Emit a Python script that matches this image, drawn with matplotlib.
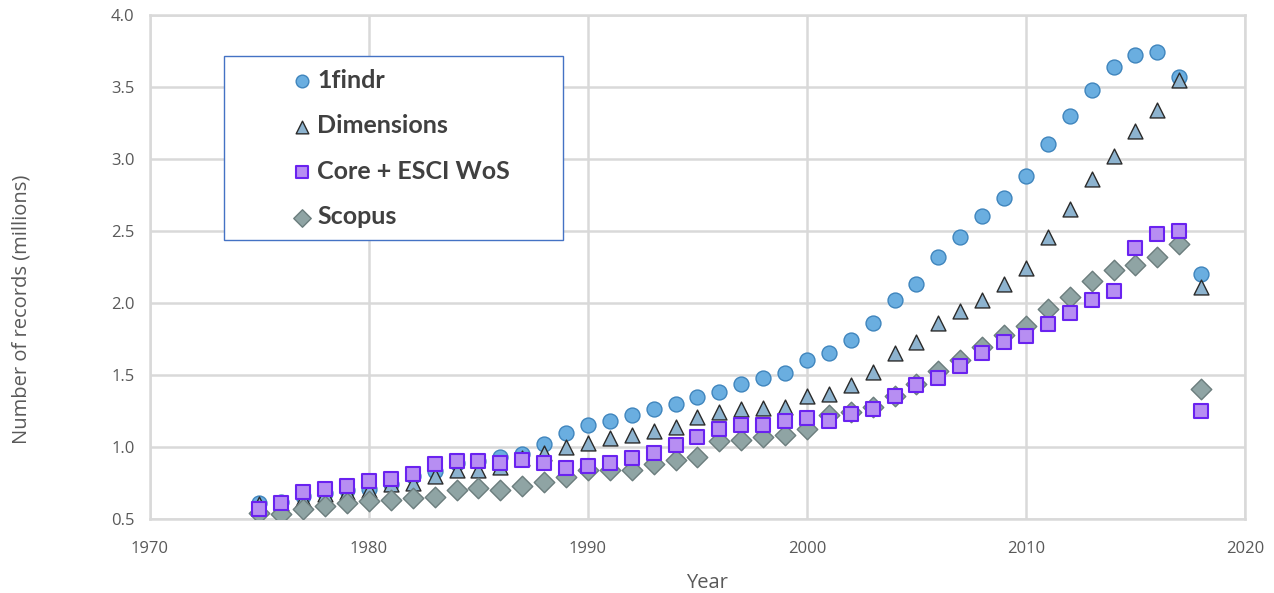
import matplotlib
matplotlib.use("Agg")
import matplotlib.pyplot as plt
from matplotlib.patches import Rectangle

years = list(range(1975, 2019))

findr = [0.61, 0.62, 0.66, 0.68, 0.70, 0.71, 0.74, 0.80, 0.83, 0.89,
         0.90, 0.93, 0.95, 1.02, 1.095, 1.15, 1.18, 1.22, 1.26, 1.30,
         1.345, 1.38, 1.44, 1.48, 1.51, 1.60, 1.65, 1.74, 1.86, 2.02,
         2.13, 2.32, 2.46, 2.60, 2.73, 2.88, 3.10, 3.30, 3.48, 3.64,
         3.72, 3.74, 3.57, 2.20]
dimensions = [0.60, 0.61, 0.64, 0.67, 0.69, 0.70, 0.74, 0.75, 0.80, 0.84,
              0.84, 0.86, 0.92, 0.96, 1.00, 1.03, 1.06, 1.08, 1.11, 1.14,
              1.21, 1.245, 1.26, 1.27, 1.28, 1.35, 1.37, 1.43, 1.52, 1.65,
              1.73, 1.86, 1.94, 2.02, 2.13, 2.24, 2.46, 2.65, 2.86, 3.02,
              3.19, 3.34, 3.55, 2.11]
wos = [0.57, 0.61, 0.69, 0.71, 0.73, 0.76, 0.78, 0.81, 0.88, 0.90,
       0.90, 0.89, 0.91, 0.89, 0.85, 0.87, 0.89, 0.92, 0.96, 1.01,
       1.07, 1.125, 1.155, 1.15, 1.18, 1.20, 1.18, 1.23, 1.26, 1.35,
       1.43, 1.48, 1.56, 1.65, 1.73, 1.77, 1.85, 1.93, 2.02, 2.08,
       2.38, 2.48, 2.50, 1.25]
scopus = [0.54, 0.535, 0.57, 0.59, 0.61, 0.625, 0.63, 0.645, 0.655, 0.70,
          0.715, 0.70, 0.725, 0.755, 0.79, 0.84, 0.84, 0.84, 0.88, 0.91,
          0.93, 1.04, 1.05, 1.07, 1.08, 1.125, 1.22, 1.24, 1.28, 1.35,
          1.44, 1.53, 1.60, 1.69, 1.78, 1.84, 1.96, 2.04, 2.15, 2.23,
          2.26, 2.32, 2.41, 1.40]

x_ticks = [1970, 1980, 1990, 2000, 2010, 2020]
y_ticks = [0.5, 1.0, 1.5, 2.0, 2.5, 3.0, 3.5, 4.0]
y_tick_labels = ["0.5", "1.0", "1.5", "2.0", "2.5", "3.0", "3.5", "4.0"]

fig = plt.figure(figsize=(12.74, 5.93), dpi=100)
ax = fig.add_axes([0.1177, 0.125, 0.8595, 0.85])

ms = 115
ax.scatter(years, findr, s=ms, marker="o", facecolor="#6aaee0", edgecolor="#3f85bd",
           linewidth=1.0, label="1findr", zorder=3)
ax.scatter(years, dimensions, s=ms, marker="^", facecolor="#8db3cf", edgecolor="#2b2b2b",
           linewidth=1.0, label="Dimensions", zorder=4)
ax.scatter(years, scopus, s=ms * 0.95, marker="D", facecolor="#8fa4a4", edgecolor="#6b7d7d",
           linewidth=1.0, label="Scopus", zorder=5)
ax.scatter(years, wos, s=ms * 0.8, marker="s", facecolor="#b78ef2", edgecolor="#6a22f0",
           linewidth=1.5, label="Core + ESCI WoS", zorder=6)

ax.set_xlim(1970, 2020)
ax.set_ylim(0.5, 4.0)
ax.set_xticks(x_ticks)
ax.set_yticks(y_ticks)
ax.set_yticklabels(y_tick_labels)
ax.grid(True, color="#d9d9d9", linewidth=1.8, zorder=0)
ax.set_axisbelow(True)
for sp in ax.spines.values():
    sp.set_color("#d9d9d9")
    sp.set_linewidth(1.8)
ax.tick_params(length=0, labelsize=12, colors="#595959", pad=11)
ax.tick_params(axis="x", pad=16)
for lab in ax.get_xticklabels() + ax.get_yticklabels():
    lab.set_family("Open Sans")

ax.set_xlabel("Year", fontsize=14.5, color="#595959", family="Open Sans")
ax.set_ylabel("Number of records (millions)", fontsize=14.5, color="#595959",
              family="Open Sans")
ax.xaxis.set_label_coords(0.509, -0.107)
ax.yaxis.set_label_coords(-0.108, 0.415)

# legend frame drawn separately so the markers can sit well inside it
ax.add_patch(Rectangle((0.0676, 0.553), 0.3096, 0.365, transform=ax.transAxes,
                       facecolor="white", edgecolor="#4472c4", linewidth=1.0, zorder=9))

handles, labels = ax.get_legend_handles_labels()
order = [0, 1, 3, 2]
leg = ax.legend([handles[i] for i in order], [labels[i] for i in order],
                loc="upper left", bbox_to_anchor=(0.130, 0.893), frameon=False,
                markerscale=0.85,
                prop={"family": "Lato", "weight": "bold", "size": 18},
                labelspacing=0.9, borderpad=0, handletextpad=0.25,
                borderaxespad=0, handlelength=0.75)
for t in leg.get_texts():
    t.set_color("#404040")
leg.set_zorder(10)

fig.savefig("out.png", dpi=100)
